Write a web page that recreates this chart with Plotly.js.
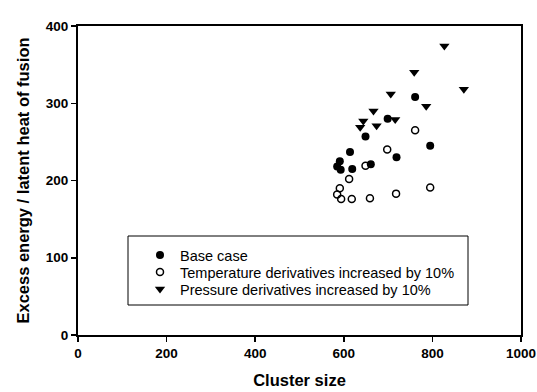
<!DOCTYPE html>
<html>
<head>
<meta charset="utf-8">
<script src="https://cdn.plot.ly/plotly-3.0.1.min.js"></script>
<style>html,body{margin:0;padding:0;background:#fff;}#chart{width:537px;height:392px;}</style>
</head>
<body>
<div id="chart"></div>
<script>
// Base case
var baseX = [761, 699, 649, 614, 719, 795, 661, 591, 585, 593, 619];
var baseY = [308, 280, 257, 237, 230, 245, 221, 225, 218, 214, 215];
// Temperature derivatives increased by 10%
var tempX = [761, 698, 649, 612, 591, 585, 594, 618, 659, 718, 795];
var tempY = [265, 240, 219, 202, 190, 182, 176, 176, 177, 183, 191];
// Pressure derivatives increased by 10%
var presX = [827, 759, 871, 706, 786, 667, 716, 674, 644, 637];
var presY = [374, 340, 318, 312, 296, 290, 279, 271, 277, 269];

var names = ["Base case", "Temperature derivatives increased by 10%", "Pressure derivatives increased by 10%"];
var xTicks = [0, 200, 400, 600, 800, 1000];
var yTicks = [0, 100, 200, 300, 400];

var traces = [
  {x: baseX, y: baseY, name: names[0], type: "scatter", mode: "markers", legend: "legend",
   marker: {symbol: "circle", size: 8, color: "#000"}},
  {x: tempX, y: tempY, name: names[1], type: "scatter", mode: "markers", legend: "legend2",
   marker: {symbol: "circle-open", size: 7, color: "#000", line: {width: 1.5, color: "#000"}}},
  {x: presX, y: presY, name: names[2], type: "scatter", mode: "markers", legend: "legend3",
   marker: {symbol: "triangle-down", size: 9, color: "#000"}}
];

var FAM = "Liberation Sans, Arial, sans-serif";
var axFont = {family: FAM, size: 13.5, color: "#000", weight: "bold"};
var titleFont = {family: FAM, size: 16.5, color: "#000", weight: "bold"};
var legFont = {family: FAM, size: 14.5, color: "#000"};

function leg(rowY) {
  return {
    x: (140 - 78) / 443, y: (335 - rowY) / 309, xanchor: "left", yanchor: "middle",
    bgcolor: "rgba(0,0,0,0)", borderwidth: 0, font: legFont
  };
}

var layout = {
  width: 537, height: 392,
  margin: {l: 78, r: 16, t: 26, b: 57},
  paper_bgcolor: "#fff", plot_bgcolor: "#fff",
  showlegend: true,
  font: {family: FAM, color: "#000"},
  xaxis: {
    range: [0, 1000], tickvals: xTicks, ticktext: xTicks.map(String),
    showgrid: false, zeroline: false, showline: true, linecolor: "#000", linewidth: 2, mirror: true,
    ticks: "outside", ticklen: 5, tickwidth: 1.5, tickcolor: "#000",
    tickfont: axFont,
    title: {text: "Cluster size", font: titleFont, standoff: 14}
  },
  yaxis: {
    range: [0, 400], tickvals: yTicks, ticktext: yTicks.map(String),
    showgrid: false, zeroline: false, showline: true, linecolor: "#000", linewidth: 2, mirror: true,
    ticks: "outside", ticklen: 5, tickwidth: 1.5, tickcolor: "#000",
    tickfont: axFont,
    title: {text: "Excess energy / latent heat of fusion", font: titleFont, standoff: 12}
  },
  legend: leg(255),
  legend2: leg(272),
  legend3: leg(289),
  shapes: [{
    type: "rect", xref: "paper", yref: "paper",
    x0: (128 - 78) / 443, x1: (468 - 78) / 443,
    y0: (335 - 305) / 309, y1: (335 - 236) / 309,
    line: {color: "#000", width: 1}, fillcolor: "rgba(0,0,0,0)", layer: "below"
  }]
};

Plotly.newPlot("chart", traces, layout, {displayModeBar: false, staticPlot: true});
</script>
</body>
</html>
